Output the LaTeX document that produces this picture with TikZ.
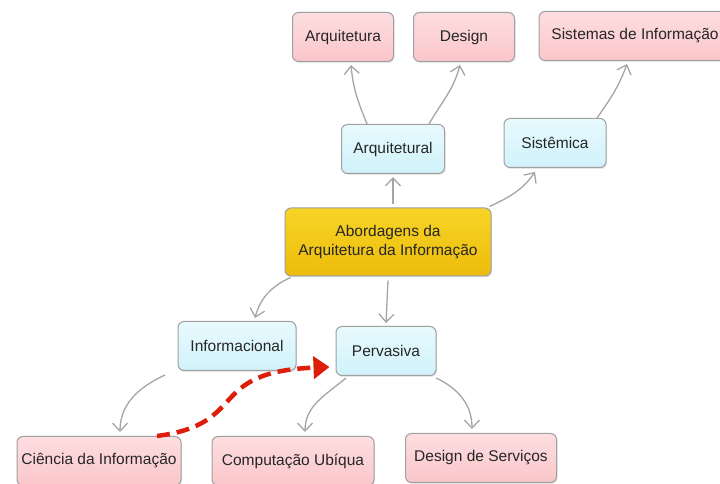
\documentclass[tikz,border=0pt]{standalone}
\usepackage{fontspec}
\setmainfont{Liberation Sans}
\usetikzlibrary{arrows.meta,shadows}

\definecolor{pinkfill}{RGB}{250,198,202}
\definecolor{pinktop}{RGB}{253,222,224}
\definecolor{bluefill}{RGB}{208,242,251}
\definecolor{bluetop}{RGB}{232,250,254}
\definecolor{goldfill}{RGB}{236,188,10}
\definecolor{goldtop}{RGB}{248,212,40}
\definecolor{boxline}{RGB}{160,160,160}
\definecolor{linkgray}{RGB}{165,165,165}
\definecolor{hint}{RGB}{222,30,10}

\tikzset{
  box/.style={draw=boxline,line width=1pt,rounded corners=6pt,minimum height=49pt,
    text=black!85,font=\fontsize{15.5}{18.5}\selectfont,align=center,
    drop shadow={shadow xshift=1pt,shadow yshift=-1.5pt,opacity=0.2}},
  field/.style={box,top color=pinktop,bottom color=pinkfill},
  approach/.style={box,top color=bluetop,bottom color=bluefill},
  theme/.style={box,top color=goldtop,bottom color=goldfill,minimum height=68pt},
  link/.style={draw=linkgray,line width=1.3pt,-{Straight Barb[length=8pt,width=15pt]}},
}

\begin{document}
\begin{tikzpicture}[x=1pt,y=1pt]
\useasboundingbox (0,0) rectangle (720,484);

\node[theme,minimum width=206pt] (abordagens) at (388,242) {Abordagens da\\Arquitetura da Informação};

\node[approach,minimum width=103pt] (arquitetural) at (393,335) {Arquitetural};
\node[approach,minimum width=102pt] (sistemica) at (555,341) {Sistêmica};
\node[approach,minimum width=118pt] (informacional) at (237,138) {Informacional};
\node[approach,minimum width=100pt] (pervasiva) at (386,133) {Pervasiva};

\node[field,minimum width=101pt] (arquitetura) at (343,447) {Arquitetura};
\node[field,minimum width=101pt] (design) at (464,447) {Design};
\node[field,minimum width=192pt] (sistemas) at (635,448) {Sistemas de Informação};
\node[field,minimum width=164pt] (ciencia) at (99,23) {Ciência da Informação};
\node[field,minimum width=162pt] (computacao) at (293,23) {Computação Ubíqua};
\node[field,minimum width=151pt] (servicos) at (481,26) {Design de Serviços};

\draw[link] ([xshift=-26pt]arquitetural.north) to[out=112,in=-85] ([xshift=8pt,yshift=-3pt]arquitetura.south);
\draw[link] ([xshift=36pt]arquitetural.north) to[out=60,in=-105] ([xshift=-4pt,yshift=-3pt]design.south);
\draw[link] ([xshift=42pt]sistemica.north) to[out=55,in=-110] ([xshift=-8pt,yshift=-3pt]sistemas.south);
\draw[link] ([xshift=5pt,yshift=3pt]abordagens.north) -- ([yshift=-3pt]arquitetural.south);
\draw[link] ([xshift=-2pt,yshift=1pt]abordagens.north east) to[out=25,in=-125] ([xshift=-20pt,yshift=-4pt]sistemica.south);
\draw[link] ([xshift=6pt,yshift=-1pt]abordagens.south west) to[out=-155,in=75] ([xshift=18pt,yshift=3pt]informacional.north);
\draw[link] ([yshift=-4pt]abordagens.south) -- ([yshift=3pt]pervasiva.north);
\draw[link] ([xshift=-72pt,yshift=-4pt]informacional.south) to[out=-155,in=90] ([xshift=21pt,yshift=4pt]ciencia.north);
\draw[link] ([xshift=-40pt,yshift=-2pt]pervasiva.south) to[out=-140,in=90] ([xshift=12pt,yshift=4pt]computacao.north);
\draw[link] ([xshift=50pt,yshift=-2pt]pervasiva.south) to[out=-25,in=90] ([xshift=-9pt,yshift=4pt]servicos.north);

\draw[hint,line width=4.5pt,dash pattern=on 13pt off 7pt,-{Triangle[length=16pt,width=22pt]}]
  ([xshift=58pt]ciencia.north) .. controls (250,60) and (205,112) .. ([xshift=-6pt,yshift=-16pt]pervasiva.west);
\end{tikzpicture}
\end{document}
